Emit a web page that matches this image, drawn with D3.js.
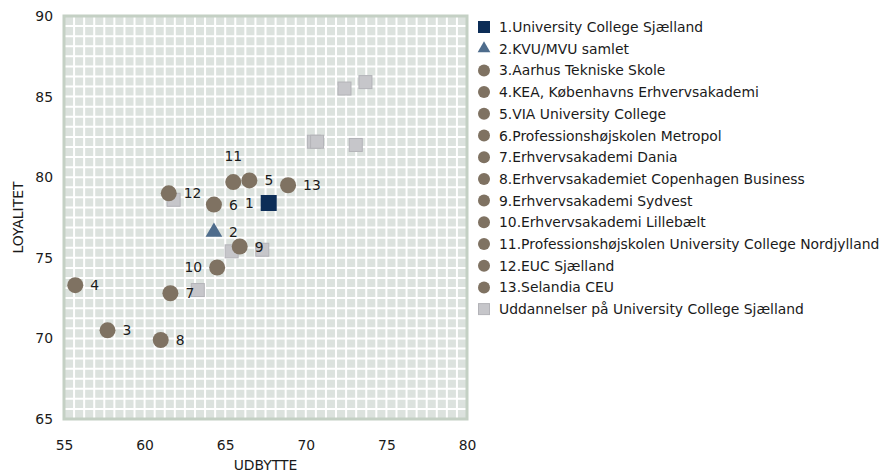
<!DOCTYPE html>
<html>
<head>
<meta charset="utf-8">
<script src="https://cdn.jsdelivr.net/npm/d3@7"></script>
<style>
  body { margin: 0; background: #fff; }
  text { font-family: "DejaVu Sans", sans-serif; fill: #1a1a1a; }
</style>
</head>
<body>
<svg id="chart" width="886" height="474"></svg>
<script>
// institutions (legend order)
const names = [
  '1.University College Sjælland',
  '2.KVU/MVU samlet',
  '3.Aarhus Tekniske Skole',
  '4.KEA, Københavns Erhvervsakademi',
  '5.VIA University College',
  '6.Professionshøjskolen Metropol',
  '7.Erhvervsakademi Dania',
  '8.Erhvervsakademiet Copenhagen Business',
  '9.Erhvervsakademi Sydvest',
  '10.Erhvervsakademi Lillebælt',
  '11.Professionshøjskolen University College Nordjylland',
  '12.EUC Sjælland',
  '13.Selandia CEU'
];
const udbytte   = [67.7, 64.3, 57.7, 55.7, 66.5, 64.3, 61.6, 61.0, 65.9, 64.5, 65.5, 61.5, 68.9];
const loyalitet = [78.4, 76.6, 70.5, 73.3, 79.8, 78.3, 72.8, 69.9, 75.7, 74.4, 79.7, 79.0, 79.5];

// programmes at University College Sjælland
const uddName = 'Uddannelser på University College Sjælland';
const uddUdbytte   = [72.4, 73.7, 70.5, 70.7, 73.1, 61.8, 65.4, 67.3, 63.3];
const uddLoyalitet = [85.5, 85.9, 82.2, 82.2, 82.0, 78.6, 75.4, 75.5, 73.0];

const xTicks = [55, 60, 65, 70, 75, 80];
const yTicks = [65, 70, 75, 80, 85, 90];

// where the number label goes for each point
const labelSide = ['l', 'r', 'r', 'r', 'r', 'r', 'r', 'r', 'r', 'l', 't', 'r', 'r'];

const colNavy = '#0c2d57';
const colTri = '#4e6c8c';
const colDot = '#7f7262';
const colGray = '#c6c6ca';
const fs = '13.9px';

const svg = d3.select('#chart');

const x = d3.scaleLinear().domain([55, 80]).range([64, 467]);
const y = d3.scaleLinear().domain([65, 90]).range([419, 16]);

// plot background
svg.append('rect')
  .attr('x', x(55)).attr('y', y(90))
  .attr('width', x(80) - x(55)).attr('height', y(65) - y(90))
  .attr('fill', '#dce2de');

// fine white lattice
const step = 0.625;
const grid = svg.append('g').attr('stroke', '#fff').attr('stroke-width', 2);
grid.selectAll('line.v')
  .data(d3.range(55 + step, 80 - step / 2, step))
  .enter().append('line')
  .attr('x1', d => x(d)).attr('x2', d => x(d))
  .attr('y1', y(90)).attr('y2', y(65));
grid.selectAll('line.h')
  .data(d3.range(65 + step, 90 - step / 2, step))
  .enter().append('line')
  .attr('y1', d => y(d)).attr('y2', d => y(d))
  .attr('x1', x(55)).attr('x2', x(80));

svg.append('rect')
  .attr('x', x(55)).attr('y', y(90))
  .attr('width', x(80) - x(55)).attr('height', y(65) - y(90))
  .attr('fill', 'none')
  .attr('stroke', '#c4d0c4')
  .attr('stroke-width', 3);

// axes
const xAxis = svg.append('g')
  .attr('transform', `translate(0, ${y(65) + 12})`)
  .call(d3.axisBottom(x).tickValues(xTicks).tickSize(0).tickPadding(9));
const yAxis = svg.append('g')
  .attr('transform', `translate(${x(55) - 11}, 0)`)
  .call(d3.axisLeft(y).tickValues(yTicks).tickSize(0).tickPadding(0));
[xAxis, yAxis].forEach(a => {
  a.select('.domain').remove();
  a.selectAll('text').style('font-size', fs).style('font-family', '"DejaVu Sans", sans-serif').attr('fill', '#1a1a1a');
});

svg.append('text')
  .attr('x', (x(55) + x(80)) / 2).attr('y', 470)
  .attr('text-anchor', 'middle')
  .style('font-size', fs)
  .text('UDBYTTE');
svg.append('text')
  .attr('transform', `translate(23, ${(y(65) + y(90)) / 2}) rotate(-90)`)
  .attr('text-anchor', 'middle')
  .style('font-size', fs)
  .text('LOYALITET');

// programme squares (behind)
svg.append('g').selectAll('rect')
  .data(d3.range(uddUdbytte.length))
  .enter().append('rect')
  .attr('x', i => x(uddUdbytte[i]) - 6.5)
  .attr('y', i => y(uddLoyalitet[i]) - 6.5)
  .attr('width', 13).attr('height', 13)
  .attr('fill', colGray)
  .attr('stroke', '#b3b3b8')
  .attr('stroke-width', 1);

// institutions
const pts = svg.append('g');
d3.range(names.length).forEach(i => {
  const cx = x(udbytte[i]), cy = y(loyalitet[i]);
  if (i === 0) {
    pts.append('rect')
      .attr('x', cx - 8).attr('y', cy - 8)
      .attr('width', 16).attr('height', 16)
      .attr('fill', colNavy);
  } else if (i === 1) {
    pts.append('path')
      .attr('d', d3.symbol(d3.symbolTriangle, 120)())
      .attr('transform', `translate(${cx}, ${cy})`)
      .attr('fill', colTri);
  } else {
    pts.append('circle')
      .attr('cx', cx).attr('cy', cy).attr('r', 8)
      .attr('fill', colDot);
  }
});

// number labels
svg.append('g').selectAll('text')
  .data(d3.range(names.length))
  .enter().append('text')
  .attr('x', i => {
    const cx = x(udbytte[i]);
    if (labelSide[i] === 'l') return cx - 15;
    if (labelSide[i] === 't') return cx;
    return cx + 15;
  })
  .attr('y', i => labelSide[i] === 't' ? y(loyalitet[i]) - 21 : y(loyalitet[i]) + 5)
  .attr('text-anchor', i => labelSide[i] === 'l' ? 'end' : labelSide[i] === 't' ? 'middle' : 'start')
  .style('font-size', fs)
  .text(i => i + 1);

// legend
const legendItems = names.concat([uddName]);
const leg = svg.append('g').attr('transform', 'translate(484, 27)');
const rowH = 21.7;
legendItems.forEach((name, i) => {
  const g = leg.append('g').attr('transform', `translate(0, ${i * rowH})`);
  if (i === 0) {
    g.append('rect').attr('x', -6).attr('y', -6).attr('width', 12).attr('height', 12).attr('fill', colNavy);
  } else if (i === 1) {
    g.append('path').attr('d', d3.symbol(d3.symbolTriangle, 70)()).attr('fill', colTri);
  } else if (i === legendItems.length - 1) {
    g.append('rect').attr('x', -5.5).attr('y', -5.5).attr('width', 11).attr('height', 11)
      .attr('fill', colGray).attr('stroke', '#b3b3b8');
  } else {
    g.append('circle').attr('r', 6).attr('fill', colDot);
  }
  g.append('text')
    .attr('x', 15).attr('y', 5)
    .style('font-size', fs)
    .text(name);
});
</script>
</body>
</html>
